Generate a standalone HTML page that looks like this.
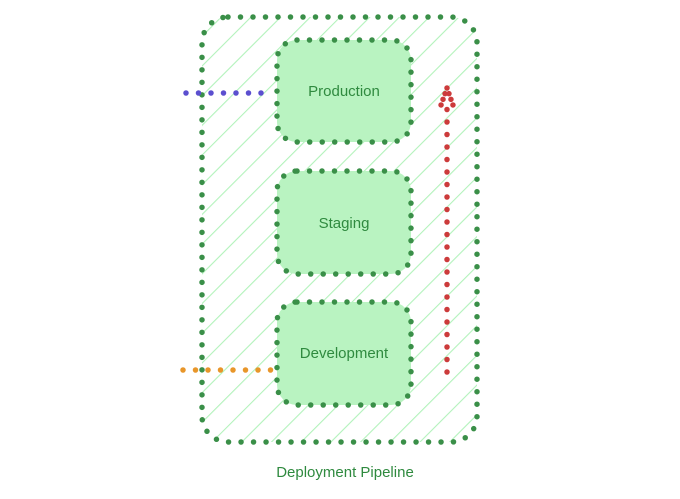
<!DOCTYPE html>
<html><head><style>
html,body{margin:0;padding:0;background:#fff;}
svg{display:block}
text{font-family:"Liberation Sans",sans-serif;fill:#2f8a3f;}
</style></head><body>
<svg width="680" height="499" viewBox="0 0 680 499" xmlns="http://www.w3.org/2000/svg">
<defs>
<pattern id="h" patternUnits="userSpaceOnUse" width="21" height="21" patternTransform="rotate(45)">
<line x1="0" y1="0" x2="0" y2="21" stroke="#b2f2bb" stroke-width="2.2"/>
</pattern>
</defs>
<rect x="202" y="17" width="275" height="425" rx="26" fill="url(#h)"/>
<g fill="none" stroke-linecap="round" stroke-width="5.5" stroke-dasharray="0 12.5">
<rect x="202" y="17" width="275" height="425" rx="26" stroke="#3a8f48"/>
<rect x="277" y="40" width="134" height="102" rx="20" fill="#b9f3c1" stroke="#3a8f48"/>
<rect x="277" y="171" width="134" height="103" rx="20" fill="#b9f3c1" stroke="#3a8f48"/>
<rect x="277" y="302" width="134" height="103" rx="20" fill="#b9f3c1" stroke="#3a8f48"/>
<line x1="186" y1="93" x2="265" y2="93" stroke="#5b4fcf"/>
<line x1="183" y1="370" x2="273" y2="370" stroke="#e8962a"/>
<line x1="447" y1="372" x2="447" y2="100" stroke="#cc3b3b"/>
<path d="M447 88 L440 108 M447 88 L454 108" stroke="#cc3b3b" stroke-dasharray="0 6"/>
</g>
<text x="344" y="96" font-size="15" text-anchor="middle">Production</text>
<text x="344" y="228" font-size="15" text-anchor="middle">Staging</text>
<text x="344" y="358" font-size="15" text-anchor="middle">Development</text>
<text x="345" y="477" font-size="15" text-anchor="middle">Deployment Pipeline</text>
</svg>
</body></html>
